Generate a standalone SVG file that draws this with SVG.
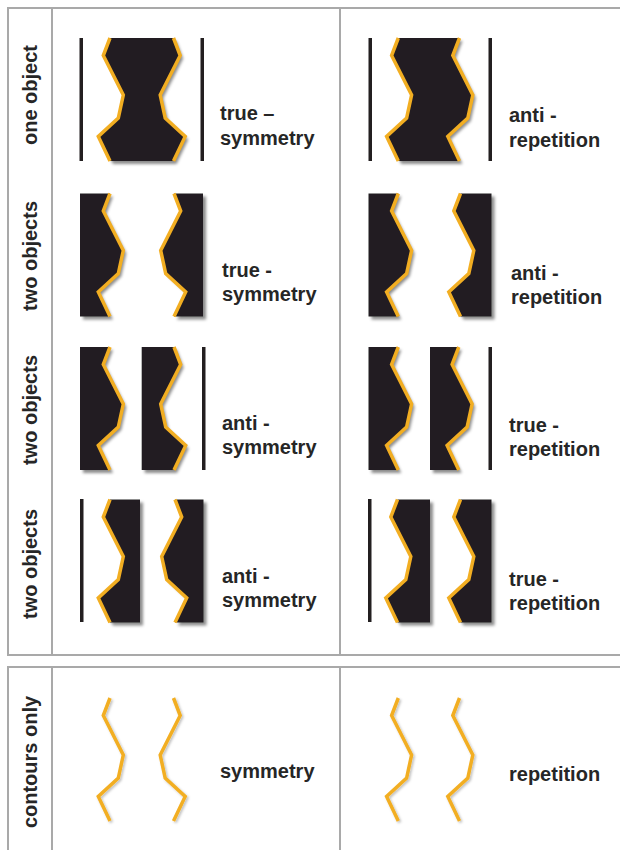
<svg xmlns="http://www.w3.org/2000/svg" width="620" height="850" viewBox="0 0 620 850">
<defs>
<filter id="sh" x="-20%" y="-20%" width="150%" height="150%">
<feDropShadow dx="3" dy="3" stdDeviation="1.6" flood-color="#000" flood-opacity="0.45"/>
</filter>
<filter id="sh2" x="-20%" y="-20%" width="150%" height="150%">
<feDropShadow dx="1.5" dy="1.5" stdDeviation="1" flood-color="#000" flood-opacity="0.25"/>
</filter>
</defs>
<style>
.grid{stroke:#a9a9a9;stroke-width:2;fill:none}
.obj{fill:#231f20}
.bar{fill:#231f20}
.ct{fill:none;stroke:#f2ae22;stroke-width:3.5;stroke-linejoin:miter;stroke-miterlimit:10}
.lbl{font-family:"Liberation Sans",Arial,sans-serif;font-weight:bold;font-size:20px;fill:#262626}
</style>
<rect width="620" height="850" fill="#ffffff"/>
<g id="grid">
<path class="grid" d="M640,8 H8 V655 H640 M52,8 V655 M340,8 V655"/>
<path class="grid" d="M640,667 H8 V860 M52,667 V860 M340,667 V860"/>
</g>
<g id="row-labels">
<text class="lbl" transform="translate(37,95) rotate(-90)" text-anchor="middle">one object</text>
<text class="lbl" transform="translate(37,256) rotate(-90)" text-anchor="middle">two objects</text>
<text class="lbl" transform="translate(37,410) rotate(-90)" text-anchor="middle">two objects</text>
<text class="lbl" transform="translate(37,564) rotate(-90)" text-anchor="middle">two objects</text>
<text class="lbl" transform="translate(37,762) rotate(-90)" text-anchor="middle">contours only</text>
</g>

<g id="r1-true-symmetry">
<rect class="bar" x="79.5" y="38" width="3.5" height="123"/>
<rect class="bar" x="200.5" y="38" width="3.5" height="123"/>
<polygon class="obj" filter="url(#sh)" points="110,38 173.5,38 180.2,55.5 160.2,95 165.2,118 185.2,136.5 173.5,161 110,161 98.3,136.5 118.3,118 123.3,95 103.3,55.5"/>
<polyline class="ct" points="110,38 103.3,55.5 123.3,95 118.3,118 98.3,136.5 110,161"/>
<polyline class="ct" points="173.5,38 180.2,55.5 160.2,95 165.2,118 185.2,136.5 173.5,161"/>
<text class="lbl" x="220" y="120">true –</text>
<text class="lbl" x="220" y="145">symmetry</text>
</g>

<g id="r1-anti-repetition">
<rect class="bar" x="368.5" y="38" width="3.5" height="123"/>
<rect class="bar" x="488.5" y="38" width="3.5" height="123"/>
<polygon class="obj" filter="url(#sh)" points="398.3,38 459.5,38 452.8,55.5 472.8,95 467.8,118 447.8,136.5 459.5,161 398.3,161 386.6,136.5 406.6,118 411.6,95 391.6,55.5"/>
<polyline class="ct" points="398.3,38 391.6,55.5 411.6,95 406.6,118 386.6,136.5 398.3,161"/>
<polyline class="ct" points="459.5,38 452.8,55.5 472.8,95 467.8,118 447.8,136.5 459.5,161"/>
<text class="lbl" x="509" y="122">anti -</text>
<text class="lbl" x="509" y="147">repetition</text>
</g>

<g id="r2-true-symmetry">
<polygon class="obj" filter="url(#sh)" points="80,193.5 110,193.5 103.3,211 123.3,250.5 118.3,273.5 98.3,292 110,316.5 80,316.5"/>
<polygon class="obj" filter="url(#sh)" points="174,193.5 203,193.5 203,316.5 174,316.5 185.7,292 165.7,273.5 160.7,250.5 180.7,211"/>
<polyline class="ct" points="110,193.5 103.3,211 123.3,250.5 118.3,273.5 98.3,292 110,316.5"/>
<polyline class="ct" points="174,193.5 180.7,211 160.7,250.5 165.7,273.5 185.7,292 174,316.5"/>
<text class="lbl" x="222" y="277">true -</text>
<text class="lbl" x="222" y="301">symmetry</text>
</g>

<g id="r2-anti-repetition">
<polygon class="obj" filter="url(#sh)" points="368.5,193.5 398.3,193.5 391.6,211 411.6,250.5 406.6,273.5 386.6,292 398.3,316.5 368.5,316.5"/>
<polygon class="obj" filter="url(#sh)" points="460.5,193.5 491.5,193.5 491.5,316.5 460.5,316.5 448.8,292 468.8,273.5 473.8,250.5 453.8,211"/>
<polyline class="ct" points="398.3,193.5 391.6,211 411.6,250.5 406.6,273.5 386.6,292 398.3,316.5"/>
<polyline class="ct" points="460.5,193.5 453.8,211 473.8,250.5 468.8,273.5 448.8,292 460.5,316.5"/>
<text class="lbl" x="511" y="280">anti -</text>
<text class="lbl" x="511" y="304">repetition</text>
</g>

<g id="r3-anti-symmetry">
<polygon class="obj" filter="url(#sh)" points="80,347 110,347 103.3,364.5 123.3,404 118.3,427 98.3,445.5 110,470 80,470"/>
<polygon class="obj" filter="url(#sh)" points="141.7,347 174,347 180.7,364.5 160.7,404 165.7,427 185.7,445.5 174,470 141.7,470"/>
<polyline class="ct" points="110,347 103.3,364.5 123.3,404 118.3,427 98.3,445.5 110,470"/>
<polyline class="ct" points="174,347 180.7,364.5 160.7,404 165.7,427 185.7,445.5 174,470"/>
<rect class="bar" x="202" y="347" width="3.5" height="123"/>
<text class="lbl" x="222" y="430">anti -</text>
<text class="lbl" x="222" y="454">symmetry</text>
</g>

<g id="r3-true-repetition">
<polygon class="obj" filter="url(#sh)" points="368.5,347 398.3,347 391.6,364.5 411.6,404 406.6,427 386.6,445.5 398.3,470 368.5,470"/>
<polygon class="obj" filter="url(#sh)" points="430,347 458.8,347 452.1,364.5 472.1,404 467.1,427 447.1,445.5 458.8,470 430,470"/>
<polyline class="ct" points="398.3,347 391.6,364.5 411.6,404 406.6,427 386.6,445.5 398.3,470"/>
<polyline class="ct" points="458.8,347 452.1,364.5 472.1,404 467.1,427 447.1,445.5 458.8,470"/>
<rect class="bar" x="488.5" y="347" width="3.5" height="123"/>
<text class="lbl" x="509" y="432">true -</text>
<text class="lbl" x="509" y="456">repetition</text>
</g>

<g id="r4-anti-symmetry">
<rect class="bar" x="80" y="499" width="3.5" height="123"/>
<polygon class="obj" filter="url(#sh)" points="110,499.5 140,499.5 140,622.5 110,622.5 98.3,598 118.3,579.5 123.3,556.5 103.3,517"/>
<polygon class="obj" filter="url(#sh)" points="175,499.5 203.5,499.5 203.5,622.5 175,622.5 186.7,598 166.7,579.5 161.7,556.5 181.7,517"/>
<polyline class="ct" points="110,499.5 103.3,517 123.3,556.5 118.3,579.5 98.3,598 110,622.5"/>
<polyline class="ct" points="175,499.5 181.7,517 161.7,556.5 166.7,579.5 186.7,598 175,622.5"/>
<text class="lbl" x="222" y="583">anti -</text>
<text class="lbl" x="222" y="607">symmetry</text>
</g>

<g id="r4-true-repetition">
<rect class="bar" x="368" y="499" width="3.5" height="123"/>
<polygon class="obj" filter="url(#sh)" points="397.5,499.5 430,499.5 430,622.5 397.5,622.5 385.8,598 405.8,579.5 410.8,556.5 390.8,517"/>
<polygon class="obj" filter="url(#sh)" points="460.5,499.5 491.5,499.5 491.5,622.5 460.5,622.5 448.8,598 468.8,579.5 473.8,556.5 453.8,517"/>
<polyline class="ct" points="397.5,499.5 390.8,517 410.8,556.5 405.8,579.5 385.8,598 397.5,622.5"/>
<polyline class="ct" points="460.5,499.5 453.8,517 473.8,556.5 468.8,579.5 448.8,598 460.5,622.5"/>
<text class="lbl" x="509" y="586">true -</text>
<text class="lbl" x="509" y="610">repetition</text>
</g>

<g id="r5-symmetry" filter="url(#sh2)">
<polyline class="ct" points="110,698 103.3,715.5 123.3,755 118.3,778 98.3,796.5 110,821"/>
<polyline class="ct" points="173.5,698 180.2,715.5 160.2,755 165.2,778 185.2,796.5 173.5,821"/>
</g>
<text class="lbl" x="220" y="778">symmetry</text>

<g id="r5-repetition" filter="url(#sh2)">
<polyline class="ct" points="398.3,698 391.6,715.5 411.6,755 406.6,778 386.6,796.5 398.3,821"/>
<polyline class="ct" points="459.5,698 452.8,715.5 472.8,755 467.8,778 447.8,796.5 459.5,821"/>
</g>
<text class="lbl" x="509" y="781">repetition</text>
</svg>
